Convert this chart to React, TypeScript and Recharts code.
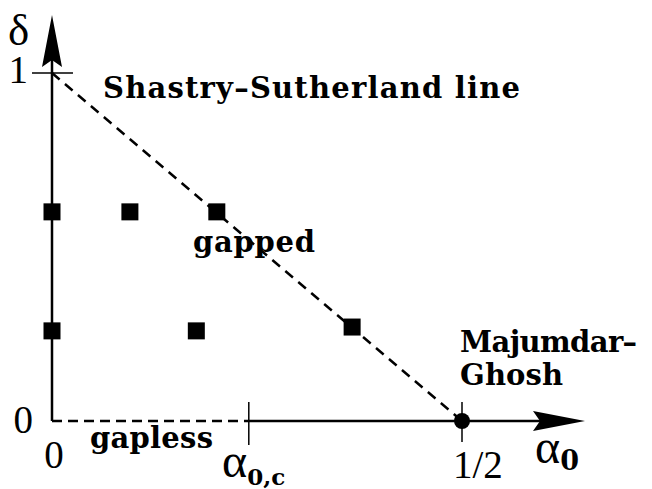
import React from "react";
import {
  ComposedChart,
  XAxis,
  YAxis,
  ReferenceLine,
  ReferenceDot,
} from "recharts";

// ---- data ----
const squareX = [0, 0.095, 0.201, 0, 0.176, 0.366];
const squareY = [0.601, 0.601, 0.601, 0.259, 0.259, 0.27];
const criticalPoint = { x: 0.5, y: 0 };
const alphaC = 0.24;
const shastryLine = [
  { x: 0, y: 1 },
  { x: 0.5, y: 0 },
];
const axisTop = 1.1667;
const axisRight = 0.65;

const labelTexts = [
  "δ",
  "1",
  "0",
  "0",
  "1/2",
  "α0,c",
  "α0",
  "Shastry–Sutherland line",
  "gapped",
  "Majumdar–",
  "Ghosh",
  "gapless",
];
const labelX = [-0.0537, -0.0293, -0.0232, 0.0024, 0.489, 0.2073, 0.589, 0.0622, 0.172, 0.4976, 0.4976, 0.0463];
const labelY = [1.0805, 0.9713, -0.0345, -0.135, -0.1638, -0.161, -0.1207, 0.928, 0.4856, 0.198, 0.1034, -0.0776];
const labelKind = ["greek", "num", "num", "numMid", "num", "alphaC", "alpha0", "bold", "bold", "bold", "bold", "bold"];

// rendered widths of the bold annotations (style table)
const boldWidths: Record<string, number> = {
  "Shastry–Sutherland line": 417,
  gapped: 122,
  "Majumdar–": 177,
  Ghosh: 103,
  gapless: 123,
};

const squares = squareX.map((x, i) => ({ x, y: squareY[i] }));
const labels = labelTexts.map((t, i) => ({ x: labelX[i], y: labelY[i], text: t, kind: labelKind[i] }));
const arrows = [
  { x: 0, y: axisTop, dir: "up" },
  { x: axisRight, y: 0, dir: "right" },
];

const SERIF = "'Liberation Serif', 'Times New Roman', serif";
const BOLD = "'DejaVu Serif', serif";

const SquareShape = (p: any) => {
  const s = 17;
  return <rect x={p.cx - s / 2} y={p.cy - s / 2} width={s} height={s} fill="#000" />;
};

const DotShape = (p: any) => <circle cx={p.cx} cy={p.cy} r={8} fill="#000" />;

const makeArrow = (dir: string) => (p: any) => {
  const { cx, cy } = p;
  const d =
    dir === "up"
      ? `M${cx},${cy} L${cx + 10},${cy + 52} L${cx},${cy + 45} L${cx - 10},${cy + 52} Z`
      : `M${cx},${cy} L${cx - 52},${cy - 10} L${cx - 45},${cy} L${cx - 52},${cy + 10} Z`;
  return <path d={d} fill="#000" />;
};

const makeLabel = (text: string, k: string) => (p: any) => {
  const { cx, cy } = p;
  if (k === "greek") {
    return (
      <text x={cx} y={cy} fontFamily={SERIF} fontSize={45} fill="#000">
        {text}
      </text>
    );
  }
  if (k === "num" || k === "numMid") {
    const anchor = k === "numMid" ? "middle" : text === "1/2" ? "start" : "end";
    return (
      <text x={cx} y={cy} fontFamily={SERIF} fontSize={39} fill="#000" textAnchor={anchor}>
        {text}
      </text>
    );
  }
  if (k === "alphaC") {
    return (
      <text x={cx} y={cy} fontFamily={SERIF} fill="#000">
        <tspan fontSize={48}>α</tspan>
        <tspan fontSize={23} fontFamily={BOLD} fontWeight="bold" dy={8}>
          0,c
        </tspan>
      </text>
    );
  }
  if (k === "alpha0") {
    return (
      <text x={cx} y={cy} fontFamily={SERIF} fill="#000">
        <tspan fontSize={48}>α</tspan>
        <tspan fontSize={27} fontFamily={BOLD} fontWeight="bold" dy={7}>
          0
        </tspan>
      </text>
    );
  }
  return (
    <text
      x={cx}
      y={cy}
      fontFamily={BOLD}
      fontWeight="bold"
      fontSize={29}
      fill="#000"
      textLength={boldWidths[text]}
      lengthAdjust="spacing"
    >
      {text}
    </text>
  );
};

export default function App() {
  return (
    <div style={{ width: 644, height: 481, background: "#fff" }}>
      <ComposedChart
        width={644}
        height={481}
        margin={{ top: 7, right: 67, bottom: 68, left: 44 }}
      >
        <XAxis type="number" dataKey="x" domain={[0, axisRight]} hide allowDataOverflow />
        <YAxis type="number" dataKey="y" domain={[0, axisTop]} hide allowDataOverflow />
        {/* y axis */}
        <ReferenceLine
          segment={[{ x: 0, y: 0 }, { x: 0, y: 1.1 }]}
          stroke="#000"
          strokeWidth={2.5}
          ifOverflow="visible"
        />
        {/* tick at 1 */}
        <ReferenceLine
          segment={[{ x: -0.0244, y: 1 }, { x: 0.0256, y: 1 }]}
          stroke="#000"
          strokeWidth={1.5}
          ifOverflow="visible"
        />
        {/* gapless dashed part of x axis */}
        <ReferenceLine
          segment={[{ x: 0, y: 0 }, { x: alphaC, y: 0 }]}
          stroke="#000"
          strokeWidth={2.5}
          strokeDasharray="10 6"
          ifOverflow="visible"
        />
        {/* solid x axis */}
        <ReferenceLine
          segment={[{ x: alphaC, y: 0 }, { x: 0.62, y: 0 }]}
          stroke="#000"
          strokeWidth={2.5}
          ifOverflow="visible"
        />
        {/* tick at alpha_c */}
        <ReferenceLine
          segment={[{ x: alphaC, y: 0.0546 }, { x: alphaC, y: -0.069 }]}
          stroke="#000"
          strokeWidth={1.5}
          ifOverflow="visible"
        />
        {/* tick at 1/2 */}
        <ReferenceLine
          segment={[{ x: 0.5, y: 0.0546 }, { x: 0.5, y: -0.06 }]}
          stroke="#000"
          strokeWidth={1.5}
          ifOverflow="visible"
        />
        {/* Shastry-Sutherland line */}
        <ReferenceLine
          segment={[shastryLine[0], shastryLine[1]]}
          stroke="#000"
          strokeWidth={2.5}
          strokeDasharray="10 7"
          ifOverflow="visible"
        />
        {arrows.map((a, i) => (
          <ReferenceDot
            key={"a" + i}
            x={a.x}
            y={a.y}
            r={1}
            ifOverflow="visible"
            shape={makeArrow(a.dir)}
          />
        ))}
        {squares.map((s, i) => (
          <ReferenceDot
            key={"s" + i}
            x={s.x}
            y={s.y}
            r={8}
            ifOverflow="visible"
            shape={SquareShape}
          />
        ))}
        <ReferenceDot
          x={criticalPoint.x}
          y={criticalPoint.y}
          r={8}
          ifOverflow="visible"
          shape={DotShape}
        />
        {labels.map((l, i) => (
          <ReferenceDot
            key={"l" + i}
            x={l.x}
            y={l.y}
            r={1}
            ifOverflow="visible"
            shape={makeLabel(l.text, l.kind)}
          />
        ))}
      </ComposedChart>
    </div>
  );
}
